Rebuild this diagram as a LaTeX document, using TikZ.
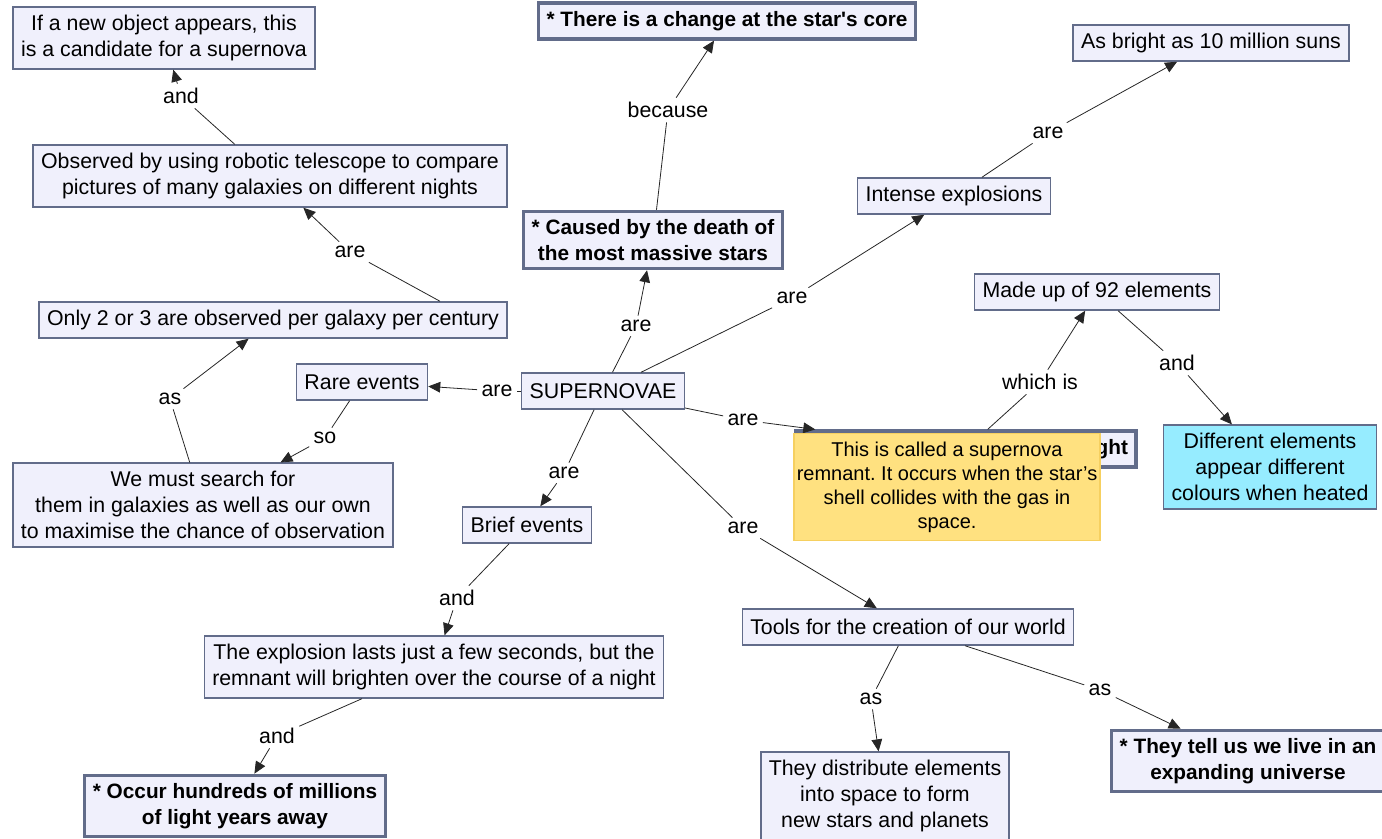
\documentclass[tikz,border=0pt]{standalone}
\usepackage{fontspec}
\setmainfont{Liberation Sans}
\usetikzlibrary{arrows.meta,calc}
\frenchspacing

\definecolor{boxfill}{RGB}{240,240,252}
\definecolor{boxline}{RGB}{98,108,138}
\definecolor{notefill}{RGB}{255,225,128}
\definecolor{noteline}{RGB}{246,208,96}
\definecolor{cyanfill}{RGB}{150,236,255}

\tikzset{every picture/.style={line width=0.75pt}}
\tikzset{
  concept/.style={draw=boxline, fill=boxfill, line width=1.1pt, align=center,
    inner xsep=6pt, inner ysep=6pt, minimum height=27pt},
  keyconcept/.style={concept, line width=2.4pt, font=\bfseries\fontsize{15.6}{19.5}\selectfont},
  colourbox/.style={concept, fill=cyanfill},
  stickynote/.style={draw=noteline, fill=notefill, line width=0.8pt, align=center,
    inner sep=1pt, minimum width=229.5pt, minimum height=80pt,
    font=\fontsize{15}{18}\selectfont},
  linkword/.style={inner sep=3pt},
  link/.style={draw=black!85, line width=0.6pt},
  linkarrow/.style={link, -{Triangle[length=9pt,width=8pt]}}
}

\begin{document}
\begin{tikzpicture}[x=0.75pt,y=0.75pt,yscale=-1,xscale=1,font=\fontsize{16}{19.5}\selectfont]
\useasboundingbox (0,0) rectangle (1382,839);

% Text Node
\node [concept] (cand) at (164,38) {If a new object appears, this\\is a candidate for a supernova};
% Text Node
\node [concept] (robot) at (270,176) {Observed by using robotic telescope to compare\\pictures of many galaxies on different nights};
% Text Node
\node [concept] (only) at (273,320) {Only 2 or 3 are observed per galaxy per century};
% Text Node
\node [concept] (rare) at (362,382) {Rare events};
% Text Node
\node [concept] (super) at (603,391) {SUPERNOVAE};
% Text Node
\node [concept] (search) at (203,505) {We must search for\\them in galaxies as well as our own\\to maximise the chance of observation};
% Text Node
\node [concept] (brief) at (527,525) {Brief events};
% Text Node
\node [concept] (expl) at (434,667) {The explosion lasts just a few seconds, but the\\remnant will brighten over the course of a night};
% Text Node
\node [keyconcept] (occur) at (235,806) {* Occur hundreds of millions\\of light years away};
% Text Node
\node [keyconcept] (core) at (727,21) {* There is a change at the star\textquotesingle s core};
% Text Node
\node [keyconcept] (death) at (653,240) {* Caused by the death of\\the most massive stars};
% Text Node
\node [concept] (intense) at (954,196) {Intense explosions};
% Text Node
\node [concept] (bright) at (1211,43) {As bright as 10 million suns};
% Text Node
\node [concept] (made) at (1097,292) {Made up of 92 elements};
% Text Node
\node [colourbox] (diff) at (1270,467) {Different elements\\appear different\\colours when heated};
% Text Node
\node [keyconcept, text width=243pt, align=right] (hidden) at (966,449) {ght};
% Text Node
\node [concept] (tools) at (908,627) {Tools for the creation of our world};
% Text Node
\node [concept] (distr) at (885,796) {They distribute elements\\into space to form\\new stars and planets};
% Text Node
\node [keyconcept] (expand) at (1248,761) {* They tell us we live in an\\expanding universe};

% Linking words
\node [linkword] (l1) at (181,96) {and};
\node [linkword] (l2) at (350,252) {are};
\node [linkword] (l3) at (170,399) {as};
\node [linkword] (l4) at (325,438) {so};
\node [linkword] (l5) at (497,391) {are};
\node [linkword] (l6) at (636,326) {are};
\node [linkword] (l7) at (668,110) {because};
\node [linkword] (l8) at (792,298) {are};
\node [linkword] (l9) at (1048,133) {are};
\node [linkword] (l10) at (743,420) {are};
\node [linkword] (l11) at (1040,382) {which is};
\node [linkword] (l12) at (1177,363) {and};
\node [linkword] (l13) at (564,473) {are};
\node [linkword] (l14) at (457,598) {and};
\node [linkword] (l15) at (277,736) {and};
\node [linkword] (l16) at (743,528) {are};
\node [linkword] (l17) at (871,699) {as};
\node [linkword] (l18) at (1100,690) {as};

%Straight Lines
\draw [link] (robot) -- (l1);
\draw [linkarrow] (l1) -- (cand);
%Straight Lines
\draw [link] ($(only.north)+(167,0)$) -- (l2);
\draw [linkarrow] (l2) -- (robot);
%Straight Lines
\draw [link] (search) -- (l3);
\draw [linkarrow] (l3) -- (only);
%Straight Lines
\draw [link] (rare) -- (l4);
\draw [linkarrow] (l4) -- (search);
%Straight Lines
\draw [link] (super) -- (l5);
\draw [linkarrow] (l5) -- (rare);
%Straight Lines
\draw [link] (super) -- (l6);
\draw [linkarrow] (l6) -- (death);
%Straight Lines
\draw [link] (death) -- (l7);
\draw [linkarrow] (l7) -- (core);
%Straight Lines
\draw [link] (super) -- (l8);
\draw [linkarrow] (l8) -- (intense);
%Straight Lines
\draw [link] (intense) -- (l9);
\draw [linkarrow] (l9) -- (bright);
%Straight Lines
\draw [link] (super) -- (l10);
\draw [linkarrow] (l10) -- (hidden);
%Straight Lines
\draw [link] (hidden) -- (l11);
\draw [linkarrow] (l11) -- (made);
%Straight Lines
\draw [link] (made) -- (l12);
\draw [linkarrow] (l12) -- (diff);
%Straight Lines
\draw [link] (super) -- (l13);
\draw [linkarrow] (l13) -- (brief);
%Straight Lines
\draw [link] (brief) -- (l14);
\draw [linkarrow] (l14) -- (expl);
%Straight Lines
\draw [link] (expl) -- (l15);
\draw [linkarrow] (l15) -- (occur);
%Straight Lines
\draw [link] (super) -- (l16);
\draw [linkarrow] (l16) -- (tools);
%Straight Lines
\draw [link] (tools) -- (l17);
\draw [linkarrow] (l17) -- (distr);
%Straight Lines
\draw [link] (tools) -- (l18);
\draw [linkarrow] (l18) -- (expand);

% Sticky note on top
\node [stickynote] (note) at (947,487) {This is called a supernova\\remnant. It occurs when the star’s\\shell collides with the gas in\\space.};

\end{tikzpicture}
\end{document}
